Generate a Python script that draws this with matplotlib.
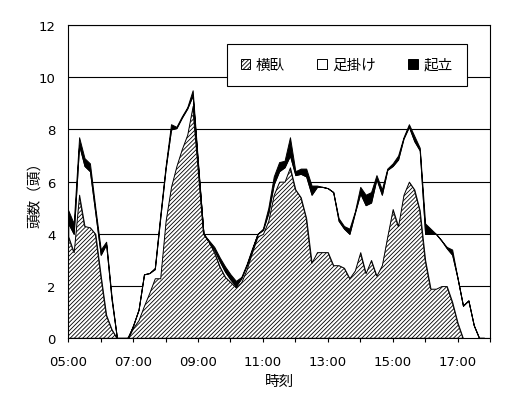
import numpy as np
import matplotlib
matplotlib.use("Agg")
import matplotlib.pyplot as plt

plt.rcParams['font.family'] = ['Noto Sans CJK JP', 'DejaVu Sans']
plt.rcParams['hatch.linewidth'] = 0.6

# 10-minute samples starting at 05:00
start_hour = 5.0
step_min = 10

lying = [3.9, 3.3, 5.5, 4.3, 4.25, 4.0, 2.4, 0.9, 0.35, 0, 0, 0,
         0.4, 0.7, 1.25, 1.75, 2.3, 2.3, 4.5, 5.8, 6.6, 7.25, 7.8, 8.9,
         6.5, 4.0, 3.7, 3.3, 2.75, 2.35, 2.15, 1.95, 2.15, 2.65, 3.3, 3.9,
         4.0, 4.5, 5.5, 6.0, 6.0, 6.55, 5.7, 5.4, 4.6, 2.9, 3.3, 3.3,
         3.3, 2.8, 2.8, 2.7, 2.3, 2.6, 3.3, 2.5, 3.0, 2.4, 2.8, 3.9,
         4.95, 4.3, 5.5, 6.0, 5.7, 4.9, 3.0, 1.9, 1.9, 2.0, 2.0, 1.4,
         0.6, 0, 0, 0, 0, 0]
footrest = [0.5, 0.7, 1.9, 2.3, 2.15, 0.8, 0.8, 2.7, 1.15, 0, 0, 0,
            0.1, 0.4, 1.2, 0.75, 0.35, 2.3, 2.0, 2.2, 1.45, 1.2, 1.0, 0.4,
            0.1, 0, 0, 0.1, 0.2, 0.2, 0.1, 0.05, 0.15, 0.15, 0.1, 0.1,
            0.15, 0.3, 0.4, 0.4, 0.55, 0.45, 0.55, 0.9, 1.6, 2.6, 2.5, 2.5,
            2.45, 2.8, 1.7, 1.5, 1.7, 2.2, 2.25, 2.6, 2.2, 3.7, 2.7, 2.55,
            1.65, 2.55, 2.15, 2.1, 1.85, 2.3, 1.0, 2.1, 2.1, 1.75, 1.45, 1.8,
            1.7, 1.25, 1.45, 0.5, 0, 0]
standing = [0.5, 0.4, 0.3, 0.3, 0.3, 0.2, 0.2, 0.1, 0.1, 0, 0, 0,
            0, 0, 0, 0, 0.05, 0.1, 0.1, 0.2, 0.05, 0.05, 0.05, 0.2,
            0.1, 0, 0.05, 0.1, 0.15, 0.2, 0.2, 0.2, 0.05, 0.05, 0.05, 0,
            0.05, 0.2, 0.3, 0.35, 0.25, 0.7, 0.15, 0.2, 0.3, 0.35, 0.05, 0,
            0, 0, 0.1, 0.1, 0.2, 0.05, 0.25, 0.4, 0.4, 0.15, 0.2, 0.05,
            0.1, 0.15, 0.05, 0.1, 0.2, 0.1, 0.4, 0.2, 0, 0, 0.05, 0.2,
            0, 0, 0, 0, 0, 0]
tick_labels = ['05:00', '', '07:00', '', '09:00', '', '11:00', '', '13:00',
               '', '15:00', '', '17:00', '']

t = start_hour + np.arange(len(lying)) * step_min / 60.0
h = np.array(lying)
w = h + np.array(footrest)
top = w + np.array(standing)

fig = plt.figure(figsize=(5.27, 4.10), dpi=100)
ax = fig.add_axes([0.1296, 0.1724, 0.8002, 0.7642])

ax.fill_between(t, 0, h, facecolor='white', edgecolor='black', hatch='////////',
                linewidth=0.7, label='横臥', zorder=3)
ax.fill_between(t, h, w, facecolor='white', edgecolor='black',
                linewidth=0.7, label='足掛け', zorder=3)
ax.fill_between(t, w, top, facecolor='black', edgecolor='black',
                linewidth=0.7, label='起立', zorder=3)

ax.set_xlim(5, 18)
ax.set_ylim(0, 12)
ax.set_xticks(np.arange(5, 19, 1))
ax.set_xticklabels(tick_labels, family='DejaVu Sans', fontsize=9.5)
ax.set_yticks(np.arange(0, 13, 2))
ax.set_yticklabels([str(v) for v in range(0, 13, 2)], family='DejaVu Sans', fontsize=9.5)
ax.tick_params(axis='x', direction='out', length=3, width=0.8, pad=9)
ax.tick_params(axis='y', length=0, pad=9)
ax.grid(axis='y', color='black', linewidth=0.8)
ax.set_axisbelow(True)
for s in ax.spines.values():
    s.set_linewidth(0.8)
    s.set_zorder(4)

ax.set_xlabel('時刻', fontsize=10.5)
ax.xaxis.set_label_coords(0.5, -0.115)
ax.xaxis.label.set_va('top')
ax.set_ylabel('頭数（頭）', fontsize=10.5)
ax.yaxis.set_label_coords(-0.062, 0.473)

leg = ax.legend(loc='upper left', bbox_to_anchor=(0.376, 0.939, 0.569, 0.0),
                mode='expand', ncol=3, fontsize=10.5, frameon=True, fancybox=False,
                framealpha=1, edgecolor='black', borderpad=0.95,
                handlelength=0.65, handleheight=0.65, handletextpad=0.4,
                columnspacing=1.5, borderaxespad=0)
leg.get_frame().set_linewidth(0.8)
leg.set_zorder(5)

fig.savefig('out.png', dpi=100, facecolor='white')
